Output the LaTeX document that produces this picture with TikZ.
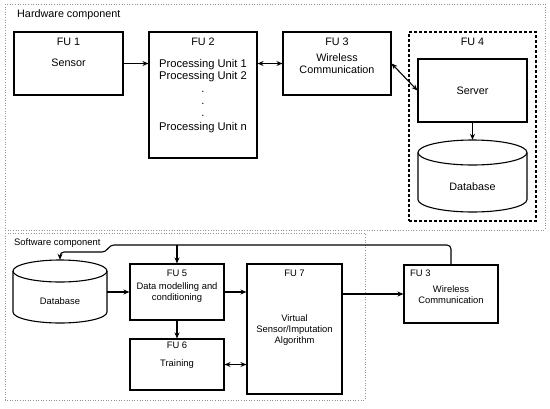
\documentclass[tikz,border=0pt]{standalone}
\usepackage{fontspec}
\setmainfont{Liberation Sans}
\usetikzlibrary{arrows.meta}

\begin{document}
\begin{tikzpicture}[x=1pt, y=-1pt,
    block/.style={draw, line width=1.1pt, inner sep=0pt},
    region/.style={draw=gray!85, line width=0.8pt, dash pattern=on 1pt off 1.6pt},
    fugroup/.style={draw, line width=1.1pt, dash pattern=on 3pt off 2pt, inner sep=0pt},
    hwtext/.style={inner sep=0pt, align=center, font=\fontsize{10.8}{12}\selectfont},
    putext/.style={inner sep=0pt, align=center, font=\fontsize{11.2}{12}\selectfont},
    swtext/.style={inner sep=0pt, align=center, font=\fontsize{9.4}{11}\selectfont},
    arrow/.style={-{Stealth[length=6pt, width=5pt]}, line width=1.1pt},
    twoway/.style={{Stealth[length=6pt, width=5pt]}-{Stealth[length=6pt, width=5pt]}, line width=1.1pt}
]
\useasboundingbox (0,0) rectangle (550,408);

% hardware part
\draw[region] (5,4) rectangle (545,230);
\node[hwtext, anchor=west] (hwlabel) at (17,15) {Hardware component};

\node[block, minimum width=109, minimum height=63] (fu1) at (68.5,63.5) {};
\node[block, minimum width=108, minimum height=126] (fu2) at (203,95) {};
\node[block, minimum width=108, minimum height=63] (fu3) at (337,63.5) {};
\node[fugroup, minimum width=127, minimum height=189] (fu4) at (472.5,126.5) {};
\node[block, minimum width=109, minimum height=63, hwtext] (server) at (472.5,90.5) {Server};
\node[inner sep=0pt, minimum width=109, minimum height=72] (db1) at (472.5,176) {};
\draw[line width=1.1pt] (418,152.5) -- (418,199.5) arc[start angle=180, end angle=360, x radius=54.5pt, y radius=12.5pt] -- (527,152.5);
\draw[line width=1.1pt] (472.5,152.5) ellipse [x radius=54.5pt, y radius=12.5pt];

\node[hwtext] (fu1t) at (68.5,42) {FU 1};
\node[hwtext] (fu1s) at (68.5,63) {Sensor};
\node[hwtext] (fu2t) at (203,42) {FU 2};
\node[putext, anchor=north] (fu2s) at (203,59.5) {Processing Unit 1\\Processing Unit 2\\[1pt].\\.\\.\\[2pt]Processing Unit n};
\node[hwtext] (fu3t) at (337,42) {FU 3};
\node[hwtext] (fu3s) at (337,64) {Wireless\\Communication};
\node[hwtext] (fu4t) at (472.5,42) {FU 4};
\node[hwtext] (db1t) at (472.5,187) {Database};

\draw[arrow] (fu1.east) -- (fu2.west |- fu1.east);
\draw[twoway] (fu2.east |- fu3.west) -- (fu3.west);
\draw[twoway] (fu3.east) -- (server.west);
\draw[arrow] (server.south) -- (db1.north);

% software part
\draw[region] (5,233) rectangle (365,400);
\node[swtext, anchor=west] (swlabel) at (14,243) {Software component};

\node[inner sep=0pt, minimum width=94, minimum height=63] (db2) at (60,291.5) {};
\draw[line width=1.1pt] (13,271) -- (13,312) arc[start angle=180, end angle=360, x radius=47pt, y radius=11pt] -- (107,271);
\draw[line width=1.1pt] (60,271) ellipse [x radius=47pt, y radius=11pt];
\node[block, minimum width=94, minimum height=56] (fu5) at (177,292) {};
\node[block, minimum width=94, minimum height=51] (fu6) at (177,364.5) {};
\node[block, minimum width=95, minimum height=130] (fu7) at (294.5,329) {};
\node[block, minimum width=94, minimum height=58] (fu3b) at (451,294) {};

\node[swtext] (db2t) at (60,301) {Database};
\node[swtext] (fu5t) at (177,273) {FU 5};
\node[swtext] (fu5s) at (177,292.5) {Data modelling and\\conditioning};
\node[swtext] (fu6t) at (177,345) {FU 6};
\node[swtext] (fu6s) at (177,364) {Training};
\node[swtext] (fu7t) at (294.5,273) {FU 7};
\node[swtext] (fu7s) at (294.5,330) {Virtual\\Sensor/Imputation\\Algorithm};
\node[swtext, anchor=west] (fu3bt) at (410,273) {FU 3};
\node[swtext] (fu3bs) at (451,294.5) {Wireless\\Communication};

\draw[arrow] (db2.east |- fu5.west) -- (fu5.west);
\draw[arrow] (fu5.east) -- (fu7.west |- fu5.east);
\draw[arrow] (fu5.south) -- (fu6.north);
\draw[twoway] (fu6.east) -- (fu7.west |- fu6.east);
\draw[arrow] (fu7.east |- fu3b.west) -- (fu3b.west);

\coordinate (fb1) at (110,245);
\coordinate (fb2) at (106,252);
\draw[arrow, rounded corners=4pt] (fu3b.north) |- (fb1) -- (fb2) -| (db2.north);
\draw[arrow] (fu5.north |- fb1) -- (fu5.north);
\end{tikzpicture}
\end{document}
